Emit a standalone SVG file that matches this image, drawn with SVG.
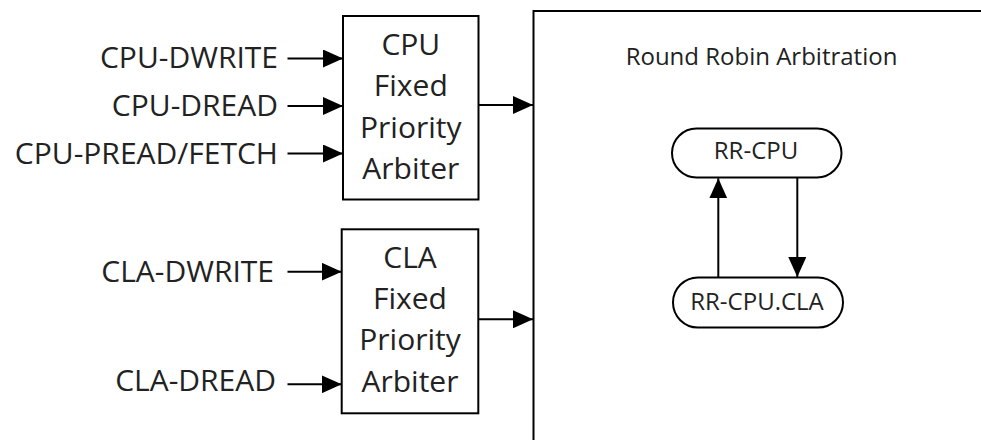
<svg xmlns="http://www.w3.org/2000/svg" width="981" height="440" viewBox="0 0 981 440">
  <defs>
    <marker id="ah" markerUnits="userSpaceOnUse" markerWidth="20" markerHeight="18" refX="20" refY="9" orient="auto">
      <path d="M0,0 L20,9 L0,18 z" fill="#000"/>
    </marker>
    <style>
      .t { font-family: "Open Sans", "Noto Sans", sans-serif; fill: #222; }
      .lbl { font-size: 30px; text-anchor: end; }
      .box { font-size: 30px; text-anchor: middle; }
      .rr { font-size: 24px; text-anchor: middle; }
      .shape { fill: #fff; stroke: #000; stroke-width: 2; }
      .conn line { stroke: #000; stroke-width: 2; marker-end: url(#ah); }
    </style>
  </defs>
  <rect width="981" height="440" fill="#fff"/>

  <g id="rr-region">
    <path d="M533.5,441 V11 H982" fill="none" stroke="#000" stroke-width="2"/>
    <text class="t rr" x="761.5" y="65">Round Robin Arbitration</text>
  </g>

  <g id="labels">
    <text class="t lbl" x="278" y="68">CPU-DWRITE</text>
    <text class="t lbl" x="278" y="116">CPU-DREAD</text>
    <text class="t lbl" x="278" y="164">CPU-PREAD/FETCH</text>
    <text class="t lbl" x="274" y="282">CLA-DWRITE</text>
    <text class="t lbl" x="276" y="391">CLA-DREAD</text>
  </g>

  <g id="cpu-arbiter">
    <rect class="shape" x="343" y="16" width="135.5" height="183.5"/>
    <text class="t box" x="410.8" y="55">CPU</text>
    <text class="t box" x="410.8" y="96">Fixed</text>
    <text class="t box" x="410.8" y="138">Priority</text>
    <text class="t box" x="410.8" y="179">Arbiter</text>
  </g>

  <g id="cla-arbiter">
    <rect class="shape" x="341.7" y="229.3" width="136.6" height="184"/>
    <text class="t box" x="410" y="268">CLA</text>
    <text class="t box" x="410" y="308.5">Fixed</text>
    <text class="t box" x="410" y="349.5">Priority</text>
    <text class="t box" x="410" y="391.5">Arbiter</text>
  </g>

  <g id="rr-cpu">
    <rect class="shape" x="672" y="128.5" width="169.5" height="49" rx="24.5"/>
    <text class="t rr" x="756" y="158.5">RR-CPU</text>
  </g>

  <g id="rr-cpu-cla">
    <rect class="shape" x="673" y="277.5" width="170" height="50" rx="25"/>
    <text class="t rr" x="757" y="309.5">RR-CPU.CLA</text>
  </g>

  <g class="conn" id="connectors">
    <line x1="287.5" y1="58.5" x2="343" y2="58.5"/>
    <line x1="287.5" y1="106" x2="343" y2="106"/>
    <line x1="287.5" y1="153.5" x2="343" y2="153.5"/>
    <line x1="287.5" y1="271.7" x2="341.7" y2="271.7"/>
    <line x1="287.5" y1="384.3" x2="341.7" y2="384.3"/>
    <line x1="478.5" y1="105" x2="533" y2="105"/>
    <line x1="478.5" y1="319.3" x2="533" y2="319.3"/>
    <line x1="718.3" y1="277.5" x2="718.3" y2="178.3"/>
    <line x1="797.3" y1="177.5" x2="797.3" y2="277"/>
  </g>
</svg>
